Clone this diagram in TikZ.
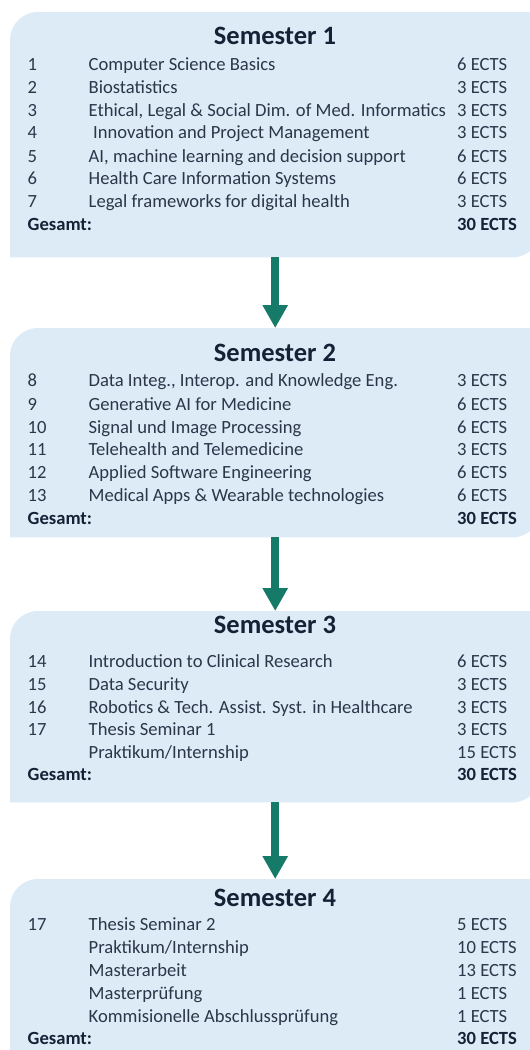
\documentclass[tikz,border=0pt]{standalone}
\usepackage{fontspec}
\setmainfont{Carlito}
\usetikzlibrary{arrows.meta}
\definecolor{boxfill}{RGB}{221,235,247}
\definecolor{titlecol}{RGB}{22,33,54}
\definecolor{bodycol}{RGB}{44,54,72}
\definecolor{arrowcol}{RGB}{22,122,104}
\tikzset{
  boxarea/.style={draw=none,inner sep=0,minimum width=530pt,anchor=north west},
  semtitle/.style={inner sep=0,anchor=base,text=titlecol,font=\fontsize{26.5}{30}\selectfont\bfseries},
  bodytxt/.style={inner sep=0,anchor=base west,text=bodycol,font=\fontsize{18.6}{22}\selectfont},
  sumtxt/.style={inner sep=0,anchor=base west,text=titlecol,font=\fontsize{18.6}{22}\selectfont\bfseries},
  bigarrow/.style={draw=arrowcol,line width=8.5pt,-{Triangle[width=24pt,length=23pt]}}
}
% row with number: #1 name, #2 baseline y, #3 number, #4 course, #5 ects
\newcommand\crsrow[5]{%
  \node[bodytxt] (#1n) at (27.5,#2) {#3};
  \node[bodytxt] (#1c) at (88.5,#2) {#4};
  \node[bodytxt] (#1e) at (457,#2) {#5};
}
% row without number
\newcommand\crsrowx[4]{%
  \node[bodytxt] (#1c) at (88.5,#2) {#3};
  \node[bodytxt] (#1e) at (457,#2) {#4};
}
\newcommand\gesrow[2]{%
  \node[sumtxt] (#1g) at (27.5,#2) {Gesamt:};
  \node[sumtxt] (#1t) at (457,#2) {30 ECTS};
}
% box shape with rounded top-left and bottom-right corners
\newcommand\semshape[1]{%
  \fill[boxfill] (#1.south west) -- ([yshift=-28pt]#1.north west)
    .. controls ([yshift=-12.5pt]#1.north west) and ([xshift=12.5pt]#1.north west) .. ([xshift=28pt]#1.north west)
    -- (#1.north east) -- ([yshift=28pt]#1.south east)
    .. controls ([yshift=12.5pt]#1.south east) and ([xshift=-12.5pt]#1.south east) .. ([xshift=-28pt]#1.south east)
    -- cycle;
}
\begin{document}
\begin{tikzpicture}[x=1pt,y=-1pt]
\useasboundingbox (0,0) rectangle (530,1050);
\clip (0,0) rectangle (530,1050);
\fill[white] (0,0) rectangle (530,1050);

% boxes
\node[boxarea,minimum height=245pt] (s1) at (10,12) {};
\node[boxarea,minimum height=209pt] (s2) at (10,328) {};
\node[boxarea,minimum height=191pt] (s3) at (10,611) {};
\node[boxarea,minimum height=200pt] (s4) at (10,879) {};
\semshape{s1}
\semshape{s2}
\semshape{s3}
\semshape{s4}

% arrows
\draw[bigarrow] (s1.south) -- (s2.north);
\draw[bigarrow] (s2.south) -- (s3.north);
\draw[bigarrow] (s3.south) -- (s4.north);

% Semester 1
\node[semtitle] (t1) at (275,44.6) {Semester 1};
\crsrow{a1}{70}{1}{Computer Science Basics}{6 ECTS}
\crsrow{a2}{93}{2}{Biostatistics}{3 ECTS}
\crsrow{a3}{116.5}{3}{Ethical, Legal \& Social Dim. of Med. Informatics}{3 ECTS}
\node[bodytxt] (a4n) at (27.5,138.8) {4};
\node[bodytxt] (a4c) at (93,138.8) {Innovation and Project Management};
\node[bodytxt] (a4e) at (457,138.8) {3 ECTS};
\crsrow{a5}{162}{5}{AI, machine learning and decision support}{6 ECTS}
\crsrow{a6}{184.5}{6}{Health Care Information Systems}{6 ECTS}
\crsrow{a7}{207}{7}{Legal frameworks for digital health}{3 ECTS}
\gesrow{a}{230}

% Semester 2
\node[semtitle] (t2) at (275,361.5) {Semester 2};
\crsrow{b1}{386.8}{8}{Data Integ., Interop. and Knowledge Eng.}{3 ECTS}
\crsrow{b2}{410.3}{9}{Generative AI for Medicine}{6 ECTS}
\crsrow{b3}{433.2}{10}{Signal und Image Processing}{6 ECTS}
\crsrow{b4}{455.6}{11}{Telehealth and Telemedicine}{3 ECTS}
\crsrow{b5}{478.5}{12}{Applied Software Engineering}{6 ECTS}
\crsrow{b6}{501}{13}{Medical Apps \& Wearable technologies}{6 ECTS}
\gesrow{b}{524.5}

% Semester 3
\node[semtitle] (t3) at (275,633) {Semester 3};
\crsrow{c1}{667}{14}{Introduction to Clinical Research}{6 ECTS}
\crsrow{c2}{690}{15}{Data Security}{3 ECTS}
\crsrow{c3}{713}{16}{Robotics \& Tech. Assist. Syst. in Healthcare}{3 ECTS}
\crsrow{c4}{735.5}{17}{Thesis Seminar 1}{3 ECTS}
\crsrowx{c5}{758.5}{Praktikum/Internship}{15 ECTS}
\gesrow{c}{780.5}

% Semester 4
\node[semtitle] (t4) at (275,906) {Semester 4};
\crsrow{d1}{930.5}{17}{Thesis Seminar 2}{5 ECTS}
\crsrowx{d2}{953.5}{Praktikum/Internship}{10 ECTS}
\crsrowx{d3}{976.3}{Masterarbeit}{13 ECTS}
\crsrowx{d4}{999}{Masterprüfung}{1 ECTS}
\crsrowx{d5}{1022}{Kommisionelle Abschlussprüfung}{1 ECTS}
\gesrow{d}{1044.7}
\end{tikzpicture}
\end{document}
